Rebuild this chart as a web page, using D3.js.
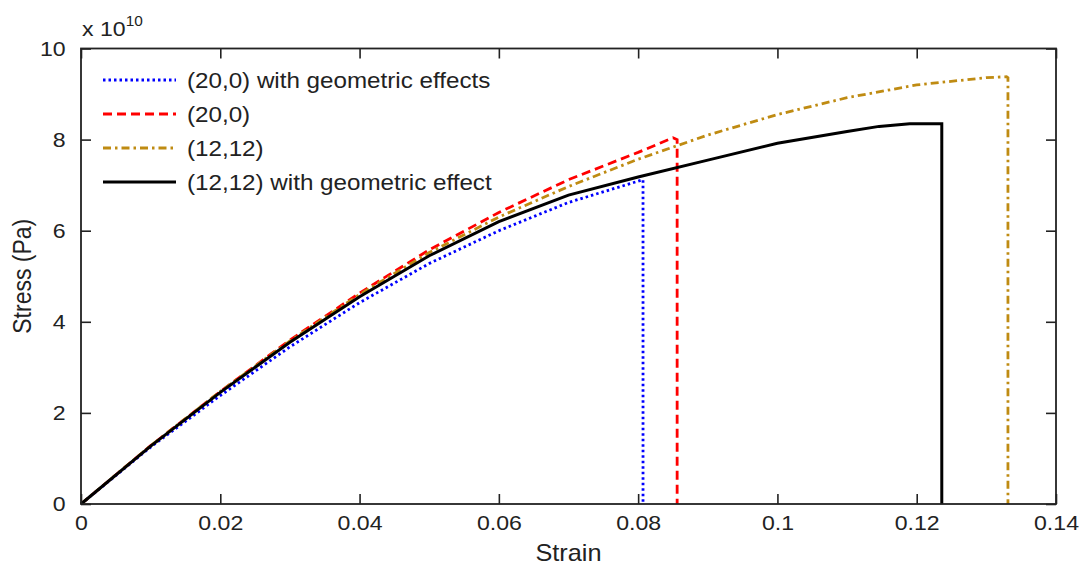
<!DOCTYPE html>
<html>
<head>
<meta charset="utf-8">
<script src="https://cdn.jsdelivr.net/npm/d3@7"></script>
<style>
  body { margin: 0; background: #fff; }
  svg { font-family: "Liberation Sans", Arial, sans-serif; }
</style>
</head>
<body>
<svg id="chart" width="1083" height="569"></svg>
<script>
// strain values and stress (x 1e10 Pa)
var blueStrain  = [0, 0.01, 0.02, 0.03, 0.04, 0.05, 0.06, 0.07, 0.0807, 0.0807]
var blueStress  = [0, 1.25, 2.38, 3.45, 4.42, 5.28, 6.0, 6.62, 7.12, 0]

var redStrain   = [0, 0.01, 0.02, 0.03, 0.04, 0.05, 0.06, 0.07, 0.08, 0.085, 0.0856, 0.0856]
var redStress   = [0, 1.28, 2.47, 3.6, 4.63, 5.58, 6.4, 7.12, 7.72, 8.04, 8.0, 0]

var goldStrain  = [0, 0.01, 0.02, 0.03, 0.04, 0.05, 0.06, 0.07, 0.08, 0.09, 0.1, 0.11, 0.12, 0.13, 0.1329, 0.1331, 0.1331]
var goldStress  = [0, 1.28, 2.47, 3.58, 4.6, 5.52, 6.3, 6.97, 7.57, 8.1, 8.55, 8.92, 9.2, 9.36, 9.38, 9.36, 0]

var blackStrain = [0, 0.01, 0.02, 0.03, 0.04, 0.05, 0.06, 0.07, 0.08, 0.09, 0.1, 0.11, 0.1146, 0.119, 0.1236, 0.1236]
var blackStress = [0, 1.27, 2.45, 3.55, 4.55, 5.45, 6.2, 6.78, 7.18, 7.55, 7.92, 8.18, 8.29, 8.35, 8.35, 0]

var seriesNames = ['(20,0) with geometric effects', '(20,0)', '(12,12)', '(12,12) with geometric effect']
var xTicks = [0, 0.02, 0.04, 0.06, 0.08, 0.1, 0.12, 0.14]
var yTicks = [0, 2, 4, 6, 8, 10]

var series = [
  { name: seriesNames[0], x: blueStrain,  y: blueStress,  color: '#0000ff', dash: '2.5,3',     width: 2.8 },
  { name: seriesNames[1], x: redStrain,   y: redStress,   color: '#ff0000', dash: '9,5',       width: 2.8 },
  { name: seriesNames[2], x: goldStrain,  y: goldStress,  color: '#bf8b12', dash: '8,4,2.5,4', width: 2.8 },
  { name: seriesNames[3], x: blackStrain, y: blackStress, color: '#000000', dash: null,        width: 3 }
]

var margin = { left: 81, right: 1083 - 1056, top: 48.5, bottom: 569 - 504 }
var svg = d3.select('#chart')
var W = 1083 - margin.left - margin.right
var H = 569 - margin.top - margin.bottom
var stretch = 'scale(1.1,1)'   // the picture's text is a little wide

var x = d3.scaleLinear().domain([0, 0.14]).range([margin.left, margin.left + W])
var y = d3.scaleLinear().domain([0, 10]).range([margin.top + H, margin.top])

var plot = svg.append('g')

var line = d3.line()
  .x(function (d) { return x(d[0]) })
  .y(function (d) { return y(d[1]) })

series.forEach(function (s) {
  var pts = s.x.map(function (v, i) { return [v, s.y[i]] })
  plot.append('path')
    .attr('d', line(pts))
    .attr('fill', 'none')
    .attr('stroke', s.color)
    .attr('stroke-width', s.width)
    .attr('stroke-dasharray', s.dash)
})

// axes, ticks inward on all four sides
var tickLen = 10
var fmt = function (d) { return d === 0 ? '0' : String(+d.toFixed(2)) }

var xb = svg.append('g').attr('transform', 'translate(0,' + (margin.top + H) + ')')
  .call(d3.axisBottom(x).tickValues(xTicks).tickSizeInner(-tickLen).tickSizeOuter(0).tickPadding(7).tickFormat(fmt))
var xt = svg.append('g').attr('transform', 'translate(0,' + margin.top + ')')
  .call(d3.axisTop(x).tickValues(xTicks).tickSizeInner(-tickLen).tickSizeOuter(0).tickFormat(''))
var yl = svg.append('g').attr('transform', 'translate(' + margin.left + ',0)')
  .call(d3.axisLeft(y).tickValues(yTicks).tickSizeInner(-tickLen).tickSizeOuter(0).tickPadding(14).tickFormat(fmt))
var yr = svg.append('g').attr('transform', 'translate(' + (margin.left + W) + ',0)')
  .call(d3.axisRight(y).tickValues(yTicks).tickSizeInner(-tickLen).tickSizeOuter(0).tickFormat(''))

;[xb, xt, yl, yr].forEach(function (g) {
  g.select('.domain').remove()
  g.selectAll('line').attr('stroke', '#222').attr('stroke-width', 1.6)
  g.selectAll('text').attr('fill', '#222').style('font-size', '21px')
    .style('font-family', '"Liberation Sans", Arial, sans-serif')
    .attr('transform', stretch)
})
xb.selectAll('text').attr('dy', '0.9em')

svg.append('rect')
  .attr('x', margin.left).attr('y', margin.top)
  .attr('width', W).attr('height', H)
  .attr('fill', 'none').attr('stroke', '#222').attr('stroke-width', 1.8)

// exponent label
var ex = svg.append('text').attr('transform', 'translate(82,36) ' + stretch)
  .attr('fill', '#222').style('font-size', '21px')
ex.append('tspan').text('x 10')
ex.append('tspan').attr('dy', -10).style('font-size', '14px').text('10')

// axis labels
svg.append('text').attr('transform', 'translate(' + x(0.07) + ',561) ' + stretch)
  .attr('text-anchor', 'middle').attr('fill', '#222').style('font-size', '23px').text('Strain')
svg.append('text').attr('transform', 'translate(31,' + y(5) + ') rotate(-90) scale(1,1.1)')
  .attr('text-anchor', 'middle').attr('fill', '#222').style('font-size', '23px').text('Stress (Pa)')

// legend
var legend = svg.append('g').attr('transform', 'translate(103,80)')
var rows = legend.selectAll('g').data(series).enter().append('g')
  .attr('transform', function (d, i) { return 'translate(0,' + (i * 34) + ')' })
rows.append('line')
  .attr('x1', 0).attr('x2', 73).attr('y1', 0).attr('y2', 0)
  .attr('stroke', function (d) { return d.color })
  .attr('stroke-width', function (d) { return d.width })
  .attr('stroke-dasharray', function (d) { return d.dash })
rows.append('text')
  .attr('transform', 'translate(84,0) ' + stretch)
  .attr('dy', '0.35em')
  .attr('fill', '#222').style('font-size', '22px')
  .text(function (d) { return d.name })
</script>
</body>
</html>
